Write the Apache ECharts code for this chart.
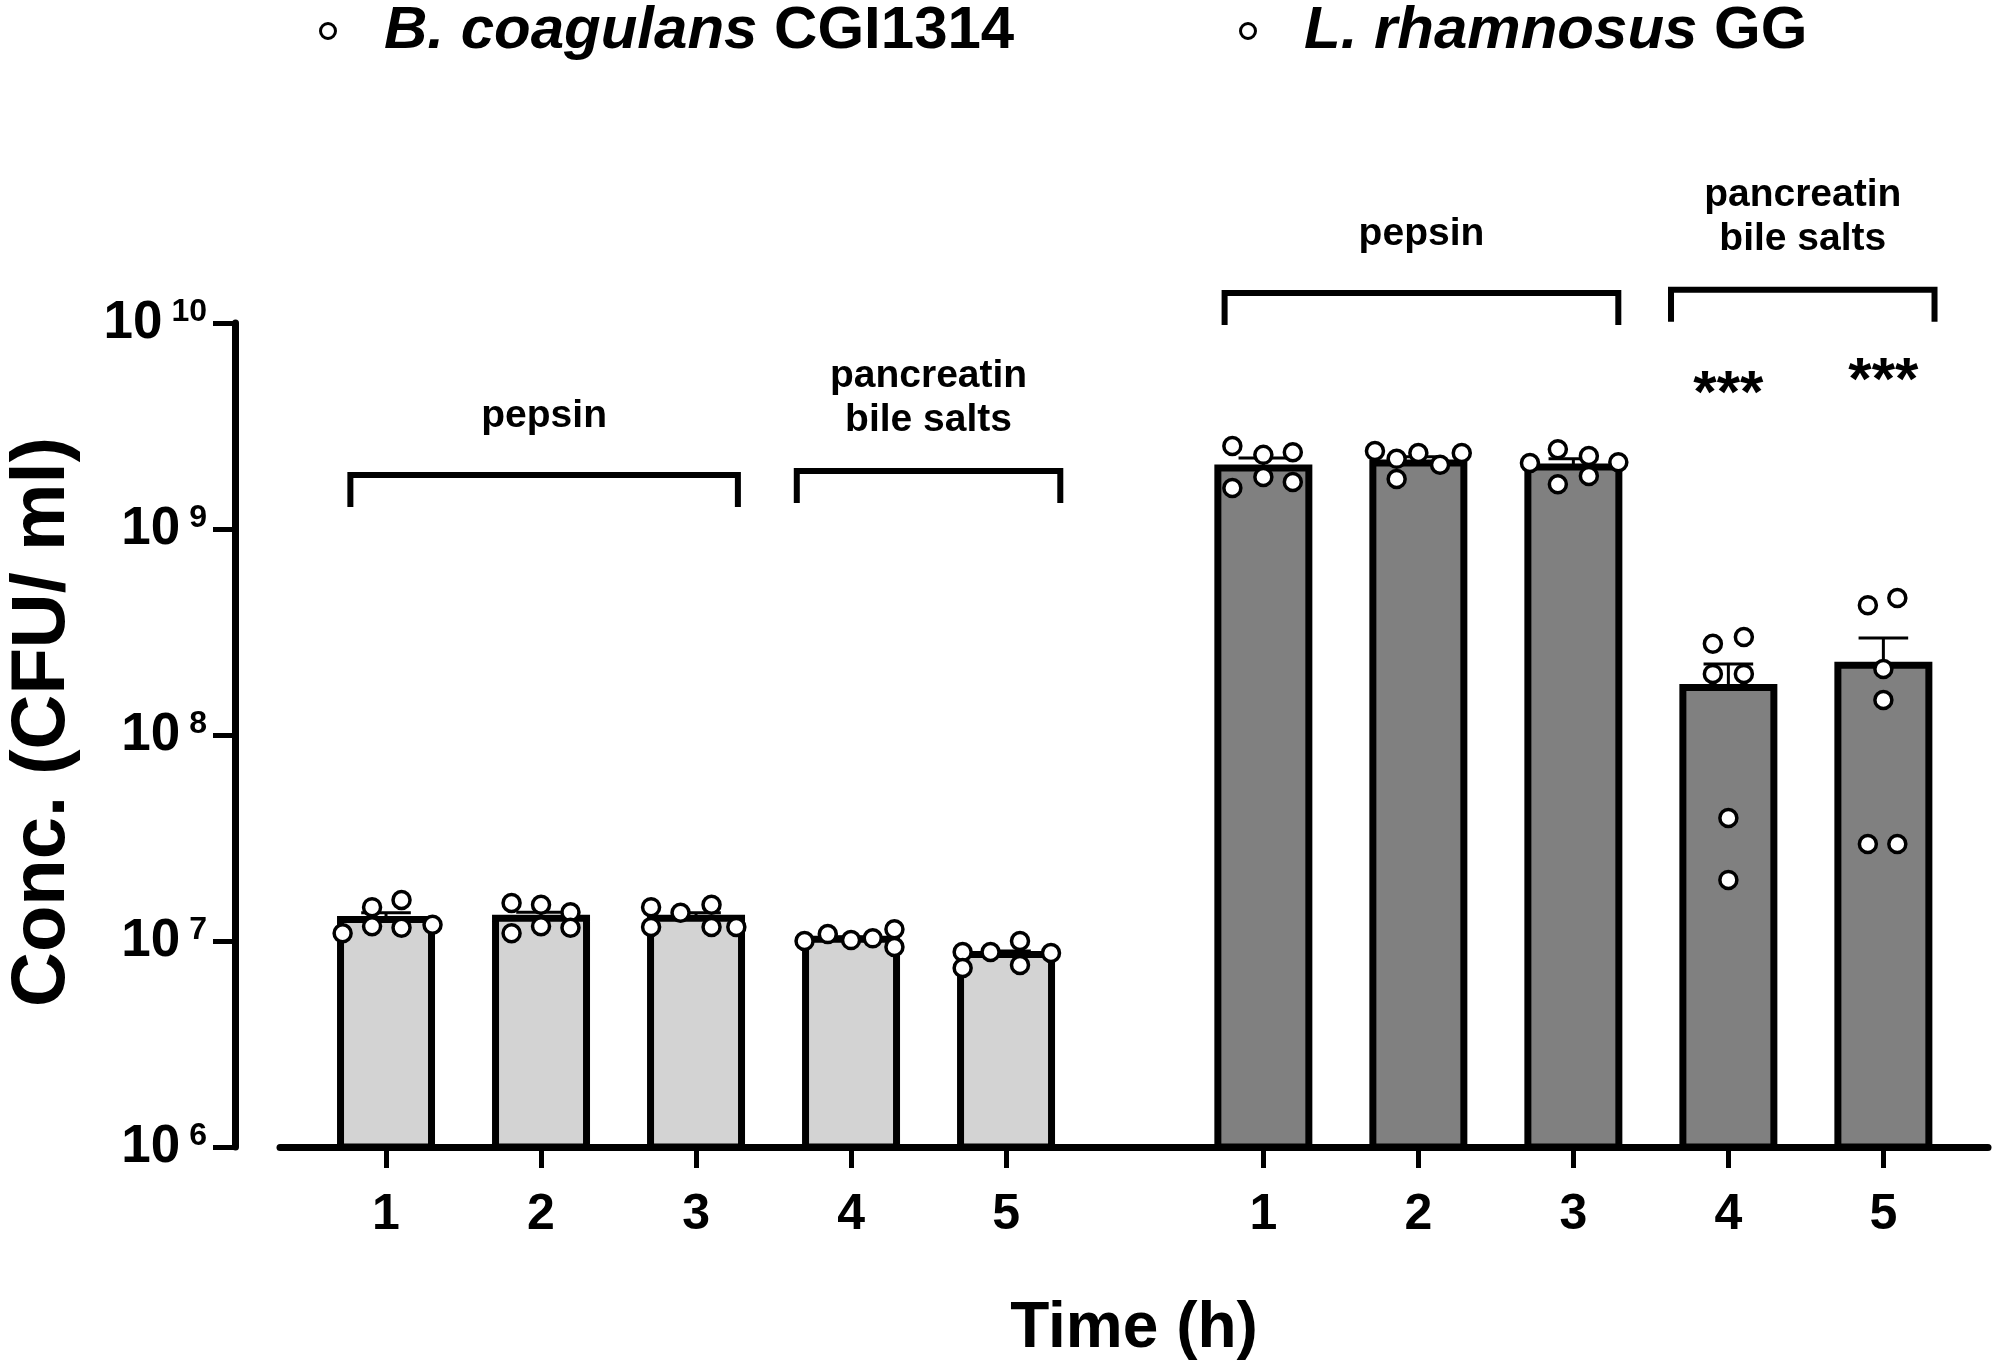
<!DOCTYPE html>
<html>
<head>
<meta charset="utf-8">
<script src="https://cdn.jsdelivr.net/npm/echarts@6/dist/echarts.min.js"></script>
<style>
html,body{margin:0;padding:0;background:#fff;}
#chart{width:1995px;height:1370px;}
</style>
</head>
<body>
<div id="chart"></div>
<script>
// ---------------- data ----------------
const timeLabels = ['1', '2', '3', '4', '5'];
const seriesNames = ['B. coagulans CGI1314', 'L. rhamnosus GG'];

const meanB = [1.27e7, 1.29e7, 1.29e7, 1.02e7, 8.6e6];
const semB  = [1.0e6, 0.9e6, 0.8e6, 0.3e6, 0.33e6];
const meanL = [1.98e9, 2.09e9, 2.00e9, 1.70e8, 2.18e8];
const semL  = [2.3e8, 1.5e8, 1.9e8, 5.1e7, 7.8e7];

const pointsB = [
  [1.09e7, 1.46e7, 1.18e7, 1.58e7, 1.16e7, 1.20e7],
  [1.53e7, 1.09e7, 1.50e7, 1.18e7, 1.38e7, 1.16e7],
  [1.46e7, 1.17e7, 1.37e7, 1.50e7, 1.17e7, 1.17e7],
  [1.00e7, 1.08e7, 1.01e7, 1.03e7, 1.14e7, 9.35e6],
  [8.85e6, 8.85e6, 1.00e7, 8.75e6, 7.40e6, 7.64e6]
];
const jitterB = [
  [-0.28, -0.09, -0.09, 0.10, 0.10, 0.30],
  [-0.19, -0.19, 0, 0, 0.19, 0.19],
  [-0.29, -0.29, -0.10, 0.10, 0.10, 0.26],
  [-0.30, -0.15, 0, 0.14, 0.28, 0.28],
  [-0.28, -0.10, 0.09, 0.29, -0.28, 0.09]
];
const pointsL = [
  [2.53e9, 2.29e9, 2.36e9, 1.58e9, 1.79e9, 1.69e9],
  [2.39e9, 2.19e9, 2.34e9, 2.05e9, 2.34e9, 1.75e9],
  [2.09e9, 2.44e9, 2.26e9, 2.11e9, 1.65e9, 1.81e9],
  [2.77e8, 2.99e8, 1.98e8, 1.98e8, 3.95e7, 1.98e7],
  [4.27e8, 4.62e8, 2.09e8, 1.48e8, 2.96e7, 2.96e7]
];
const jitterL = [
  [-0.20, 0, 0.19, -0.20, 0, 0.19],
  [-0.28, -0.14, 0, 0.14, 0.28, -0.14],
  [-0.28, -0.10, 0.10, 0.29, -0.10, 0.10],
  [-0.10, 0.10, -0.10, 0.10, 0, 0],
  [-0.10, 0.09, 0, 0, -0.10, 0.09]
];

// annotations
const bracketLabels = ['pepsin', 'pancreatin\nbile salts', 'pepsin', 'pancreatin\nbile salts'];
const bracketStart  = [-0.23, 2.65, 5.41, 8.29];
const bracketEnd    = [2.27, 4.35, 7.95, 9.99];
const bracketLevel  = [1.83e9, 1.91e9, 1.40e10, 1.45e10];
const starText = ['***', '***'];
const starX = [8.66, 9.66];
const starY = [4.47e9, 5.17e9];

// ---------------- layout helpers ----------------
const FONT = '"Liberation Sans", Arial, Helvetica, sans-serif';
const GROUP2 = 5.66;           // x offset of second group
const BAR_HALF = 0.2935;       // half bar width (axis units)
const CAP_HALF = 0.16;
const tickPos = timeLabels.map((_, i) => i).concat(timeLabels.map((_, i) => i + GROUP2));

function barRenderer(fill) {
  return function (params, api) {
    const x = api.value(0), m = api.value(1), s = api.value(2);
    const pL = api.coord([x - BAR_HALF, m]);
    const pR = api.coord([x + BAR_HALF, m]);
    const pB = api.coord([x, 1e6]);
    const pE = api.coord([x, m + s]);
    const cL = api.coord([x - CAP_HALF, m + s]);
    const cR = api.coord([x + CAP_HALF, m + s]);
    const cx = (pL[0] + pR[0]) / 2;
    return {
      type: 'group',
      children: [
        { type: 'rect', shape: { x: pL[0], y: pL[1], width: pR[0] - pL[0], height: pB[1] - pL[1] },
          style: { fill: fill, stroke: '#000', lineWidth: 7 } },
        { type: 'line', shape: { x1: cx, y1: pL[1], x2: cx, y2: pE[1] },
          style: { stroke: '#000', lineWidth: 3 } },
        { type: 'line', shape: { x1: cL[0], y1: pE[1], x2: cR[0], y2: pE[1] },
          style: { stroke: '#000', lineWidth: 3 } }
      ]
    };
  };
}

const barDataB = meanB.map((m, i) => [i, m, semB[i]]);
const barDataL = meanL.map((m, i) => [i + GROUP2, m, semL[i]]);
const ptsB = [], ptsL = [];
pointsB.forEach((arr, i) => arr.forEach((v, j) => ptsB.push([i + jitterB[i][j], v])));
pointsL.forEach((arr, i) => arr.forEach((v, j) => ptsL.push([i + GROUP2 + jitterL[i][j], v])));
const bracketData = bracketLabels.map((_, i) => [bracketStart[i], bracketEnd[i], bracketLevel[i]]);
const starData = starX.map((x, i) => [x, starY[i]]);

const chart = echarts.init(document.getElementById('chart'));
const LF = 60;
const legendCommon = {
  orient: 'horizontal', top: 0, padding: 0,
  icon: 'circle', itemWidth: 102, itemHeight: 15,
  itemStyle: { color: '#fff', borderColor: '#000', borderWidth: 3 },
  textStyle: {
    fontFamily: FONT, fontSize: LF, fontWeight: 'bold', color: '#000', lineHeight: 62,
    rich: { i: { fontFamily: FONT, fontSize: LF, fontWeight: 'bold', fontStyle: 'italic', color: '#000', lineHeight: 62 },
            n: { fontFamily: FONT, fontSize: LF, fontWeight: 'bold', color: '#000', lineHeight: 62 } }
  },
  formatter: function (name) {
    const parts = name.split(' ');
    const last = parts.pop();
    return '{i|' + parts.join(' ') + '}{n| ' + last + '}';
  },
  selectedMode: false
};

chart.setOption({
  animation: false,
  backgroundColor: '#fff',
  legend: [
    Object.assign({}, legendCommon, { left: 319, data: [seriesNames[0]] }),
    Object.assign({}, legendCommon, { left: 1239, data: [seriesNames[1]] })
  ],
  grid: { left: 280, right: 7, top: 323, bottom: 223, containLabel: false, outerBoundsMode: 'none' },
  xAxis: {
    type: 'value', min: -0.684, max: 10.335,
    axisLine: { show: true, onZero: false, lineStyle: { color: '#000', width: 7 } },
    axisTick: { show: true, customValues: tickPos, length: 21, lineStyle: { color: '#000', width: 5 } },
    axisLabel: {
      customValues: tickPos, margin: 43,
      fontFamily: FONT, fontSize: 50, fontWeight: 'bold', color: '#000',
      formatter: function (v) {
        const idx = tickPos.findIndex(p => Math.abs(p - v) < 1e-6);
        return idx >= 0 ? timeLabels[idx % timeLabels.length] : '';
      }
    },
    splitLine: { show: false },
    name: 'Time (h)', nameLocation: 'middle', nameGap: 150,
    nameTextStyle: { fontFamily: FONT, fontSize: 64, fontWeight: 'bold', color: '#000' }
  },
  yAxis: {
    type: 'log', logBase: 10, min: 1e6, max: 1e10, offset: 45,
    axisLine: { show: true, onZero: false, lineStyle: { color: '#000', width: 7 } },
    axisTick: { show: true, length: 22, lineStyle: { color: '#000', width: 5 } },
    axisLabel: {
      margin: 28,
      formatter: function (v) { return '{b|10}{s|' + Math.round(Math.log10(v)) + '}'; },
      rich: {
        b: { fontFamily: FONT, fontSize: 53, fontWeight: 'bold', color: '#000', lineHeight: 53 },
        s: { fontFamily: FONT, fontSize: 32, fontWeight: 'bold', color: '#000', lineHeight: 32,
             verticalAlign: 'top', padding: [0, 0, 0, 9] }
      }
    },
    splitLine: { show: false },
    name: 'Conc. (CFU/ ml)', nameLocation: 'middle', nameGap: 154, nameRotate: 90,
    nameTextStyle: { fontFamily: FONT, fontSize: 76, fontWeight: 'bold', color: '#000', padding: [0, 0, 0, 26] }
  },
  series: [
    { type: 'custom', name: 'barsB', renderItem: barRenderer('#d3d3d3'), data: barDataB,
      encode: { x: 0, y: 1 }, z: 2, silent: true },
    { type: 'custom', name: 'barsL', renderItem: barRenderer('#808080'), data: barDataL,
      encode: { x: 0, y: 1 }, z: 2, silent: true },
    { type: 'scatter', name: seriesNames[0], data: ptsB, symbol: 'circle', symbolSize: 17, z: 5,
      itemStyle: { color: '#fff', borderColor: '#000', borderWidth: 3.5, opacity: 1 } },
    { type: 'scatter', name: seriesNames[1], data: ptsL, symbol: 'circle', symbolSize: 17, z: 5,
      itemStyle: { color: '#fff', borderColor: '#000', borderWidth: 3.5, opacity: 1 } },
    { type: 'custom', name: 'brackets', data: bracketData, encode: { x: [0, 1], y: 2 }, z: 3, silent: true,
      clip: false,
      renderItem: function (params, api) {
        const p1 = api.coord([api.value(0), api.value(2)]);
        const p2 = api.coord([api.value(1), api.value(2)]);
        const label = bracketLabels[params.dataIndex];
        const gap = label.indexOf('\n') >= 0 ? 29 : 37;
        return {
          type: 'group',
          children: [
            { type: 'polyline', shape: { points: [[p1[0], p1[1] + 32], [p1[0], p1[1]], [p2[0], p1[1]], [p2[0], p1[1] + 32]] },
              style: { stroke: '#000', lineWidth: 6, fill: null, lineJoin: 'miter' } },
            { type: 'text', x: (p1[0] + p2[0]) / 2, y: p1[1] - gap,
              style: { text: label, fill: '#000', fontFamily: FONT, fontSize: 39, fontWeight: 'bold',
                       lineHeight: 44, align: 'center', verticalAlign: 'bottom' } }
          ]
        };
      } },
    { type: 'custom', name: 'stars', data: starData, encode: { x: 0, y: 1 }, z: 3, silent: true, clip: false,
      renderItem: function (params, api) {
        const p = api.coord([api.value(0), api.value(1)]);
        return { type: 'text', x: p[0], y: p[1],
          style: { text: starText[params.dataIndex], fill: '#000', fontFamily: FONT, fontSize: 60,
                   fontWeight: 'bold', align: 'center', verticalAlign: 'middle' } };
      } }
  ]
});
</script>
</body>
</html>
